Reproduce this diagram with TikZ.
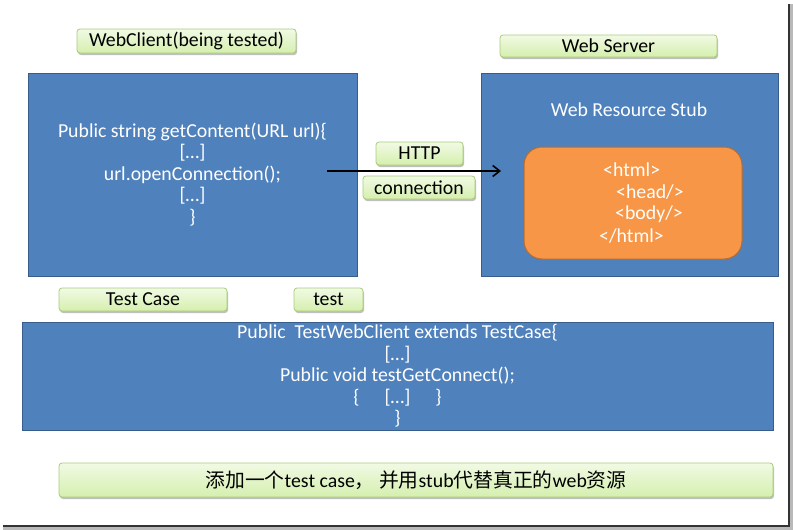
\documentclass[tikz,border=0pt]{standalone}
\usepackage{fontspec}
\setmainfont{Carlito}
\newfontfamily\cjk{Noto Sans CJK SC}
\usetikzlibrary{arrows.meta,shadows}
\definecolor{boxblue}{HTML}{4F81BD}
\definecolor{boxblueedge}{HTML}{385D8A}
\definecolor{boxorange}{HTML}{F79646}
\definecolor{boxorangeedge}{HTML}{B66D31}
\definecolor{greentop}{HTML}{F1FAE4}
\definecolor{greenbot}{HTML}{D5EFAE}
\definecolor{greenedge}{HTML}{A9CB7A}
\tikzset{
  txt/.style={font=\fontsize{19.8}{21.5}\selectfont},
  bluebox/.style={draw=boxblueedge, fill=boxblue, line width=1pt, text=white, txt, align=center, inner sep=0pt},
  orangebox/.style={draw=boxorangeedge, fill=boxorange, line width=1pt, rounded corners=18pt, inner sep=0pt},
  greenlabel/.style={draw=greenedge, top color=greentop, bottom color=greenbot, line width=0.8pt, rounded corners=3pt, text=black, txt, inner sep=0pt,
    drop shadow={shadow xshift=1pt, shadow yshift=-2pt, opacity=0.25, fill=black}},
  whitetxt/.style={text=white, txt, inner sep=0pt},
  conn/.style={line width=2pt, -{Straight Barb[length=7pt,width=11pt,line width=1.6pt]}}
}
\begin{document}
\begin{tikzpicture}[x=1pt,y=-1pt]
\useasboundingbox (0,0) rectangle (793,530);
% page frame shadow
\fill[gray!55] (788,4) rectangle (793,530);
\fill[gray!55] (3,525) rectangle (793,530);
\fill[black!80] (788,4) rectangle (790,527);
\fill[black!80] (3,525) rectangle (790,527);
% main boxes
\node[bluebox, minimum width=329pt, minimum height=203pt] (client) at (192.5,174.5)
  {Public string getContent(URL url)\{\\{[}\ldots{]}\\url.openConnection();\\{[}\ldots{]}\\\}};
\node[bluebox, minimum width=297pt, minimum height=203pt] (server) at (629.5,174.5) {};
\node[whitetxt] (stubtitle) at (629,110) {Web Resource Stub};
\node[orangebox, minimum width=218pt, minimum height=112pt] (stub) at (633,203) {};
\node[whitetxt, anchor=west] (l1) at (603,170) {<html>};
\node[whitetxt, anchor=west] (l2) at (616,192) {<head/>};
\node[whitetxt, anchor=west] (l3) at (615,214) {<body/>};
\node[whitetxt, anchor=west] (l4) at (599,236) {</html>};
\node[bluebox, minimum width=751pt, minimum height=108pt] (testcase) at (397.5,376)
  {Public\ \ TestWebClient extends TestCase\{\\{[}\ldots{]}\\Public void testGetConnect();\\\{\hspace{25pt}{[}\ldots{]}\hspace{25pt}\}\\\}};
% labels
\node[greenlabel, minimum width=219pt, minimum height=24pt] (lblclient) at (186.5,41) {WebClient(being tested)};
\node[greenlabel, minimum width=217pt, minimum height=22pt] (lblserver) at (608.5,46) {Web Server};
\node[greenlabel, minimum width=87pt, minimum height=23pt] (lblhttp) at (419.5,153.5) {HTTP};
\node[greenlabel, minimum width=112pt, minimum height=23pt] (lblconn) at (419,187.5) {connection};
\node[greenlabel, minimum width=168pt, minimum height=23pt] (lbltc) at (143,299.5) {Test Case};
\node[greenlabel, minimum width=69pt, minimum height=23pt] (lbltest) at (328.5,299.5) {test};
\node[greenlabel, minimum width=714pt, minimum height=34pt] (note) at (416,480)
  {{\cjk 添加一个}test case{\cjk ，\ 并用}stub{\cjk 代替真正的}web{\cjk 资源}};
% arrow
\coordinate (a1) at (327,171);
\coordinate (a2) at (501,171);
\draw[conn] (a1) -- (a2);
\end{tikzpicture}
\end{document}
